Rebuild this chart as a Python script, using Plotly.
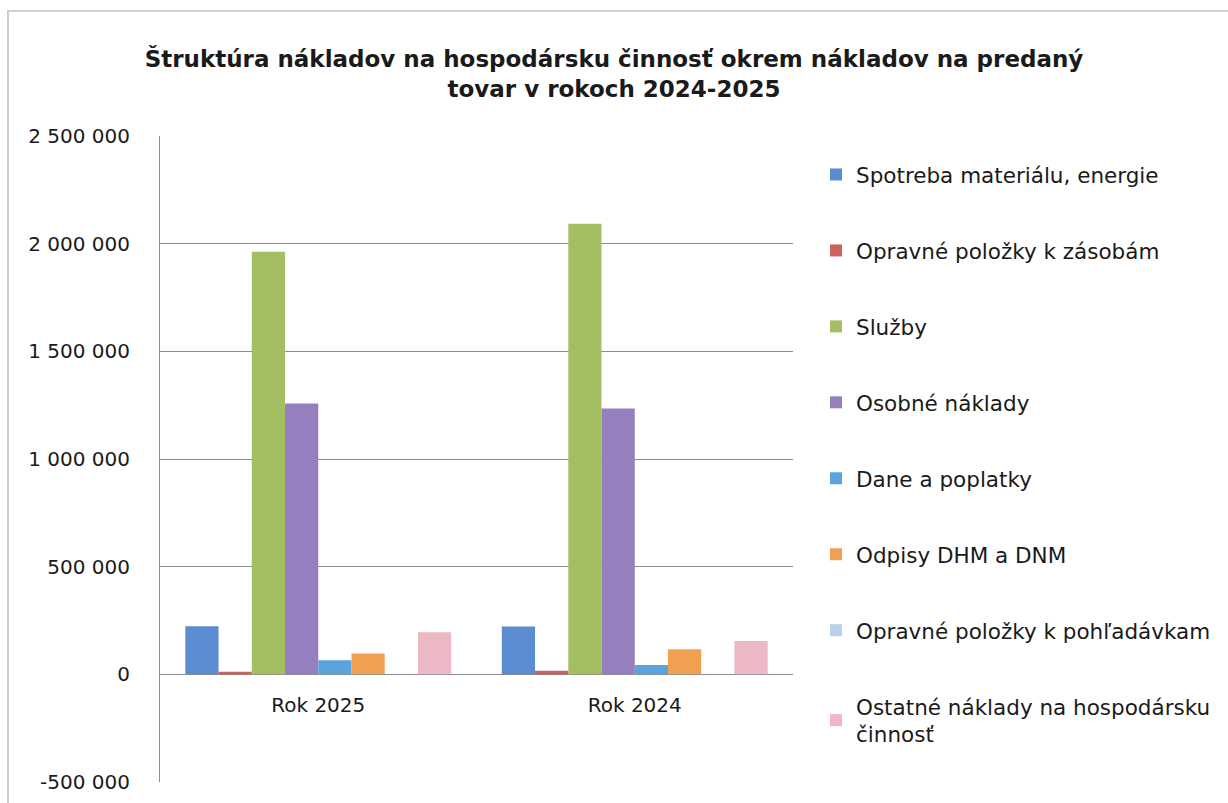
import plotly.graph_objects as go

categories = ["Rok 2025", "Rok 2024"]
series_names = [
    "Spotreba materiálu, energie",
    "Opravné položky k zásobám",
    "Služby",
    "Osobné náklady",
    "Dane a poplatky",
    "Odpisy DHM a DNM",
    "Opravné položky k pohľadávkam",
    "Ostatné náklady na hospodársku<br>činnosť",
]
spotreba = [223000, 222000]
opravne_zasoby = [12000, 17000]
sluzby = [1963000, 2093000]
osobne = [1258000, 1235000]
dane = [65000, 43000]
odpisy = [97000, 116000]
opravne_pohladavky = [0, 0]
ostatne = [195000, 155000]
series_values = [spotreba, opravne_zasoby, sluzby, osobne, dane, odpisy,
                 opravne_pohladavky, ostatne]
colors = ["#5B8BD0", "#D0605C", "#A4BE62", "#9580BD", "#5BA3DC", "#F0A050",
          "#BBD0EA", "#EBB8C4"]

tick_vals = [-500000, 0, 500000, 1000000, 1500000, 2000000, 2500000]
tick_text = ["-500 000", "0", "500 000", "1 000 000", "1 500 000",
             "2 000 000", "2 500 000"]

FONT = "'DejaVu Sans', Verdana, sans-serif"

fig = go.Figure()
for i, (name, vals, col) in enumerate(zip(series_names, series_values, colors)):
    fig.add_trace(go.Bar(
        x=categories, y=vals, name=name, marker=dict(color=col, line=dict(width=0)),
        legendgroup=f"g{i}",
    ))

W, H = 1228, 803
ml, mr, mt, mb = 160, W - 793, 136, H - 782

fig.update_layout(
    width=W, height=H,
    barmode="group", bargap=0.16, bargroupgap=0,
    paper_bgcolor="white", plot_bgcolor="white",
    margin=dict(l=ml, r=mr, t=mt, b=mb, autoexpand=False),
    font=dict(family=FONT, color="#1a1a1a", size=20),
    title=dict(
        text="<b>Štruktúra nákladov na hospodársku činnosť okrem nákladov na predaný<br>tovar v rokoch 2024-2025</b>",
        x=0.5, xanchor="center", xref="container",
        y=1 - 67 / H, yanchor="top", yref="container",
        font=dict(family=FONT, size=23, color="#1a1a1a"),
    ),
    showlegend=True,
    legend=dict(
        xref="container", yref="container",
        x=816 / W, xanchor="left", y=1 - 154 / H, yanchor="top",
        traceorder="grouped", tracegroupgap=45, maxheight=700,
        font=dict(family=FONT, size=21.5, color="#1a1a1a"),
        itemwidth=30, bgcolor="rgba(0,0,0,0)",
    ),
    xaxis=dict(
        anchor="free", position=1 / 6, showline=False, showgrid=False,
        ticks="", tickfont=dict(size=20), ticklabelstandoff=17, fixedrange=True,
    ),
    yaxis=dict(
        range=[-500000, 2500000], tickvals=tick_vals, ticktext=tick_text,
        showgrid=True, gridcolor="#8c8c8c", gridwidth=1,
        zeroline=True, zerolinecolor="#8c8c8c", zerolinewidth=1,
        showline=True, linecolor="#8c8c8c", linewidth=1,
        ticks="", ticklabelstandoff=25, tickfont=dict(size=20),
    ),
    shapes=[dict(type="rect", xref="paper", yref="paper",
                 x0=-ml / (W - ml - mr) + 8 / (W - ml - mr), x1=(W - ml + 5) / (W - ml - mr),
                 y0=-mb / (H - mt - mb) - 0.05, y1=1 + (mt - 11) / (H - mt - mb),
                 line=dict(color="#cfcfcf", width=2), layer="below")],
)

fig.write_html("out.html")
